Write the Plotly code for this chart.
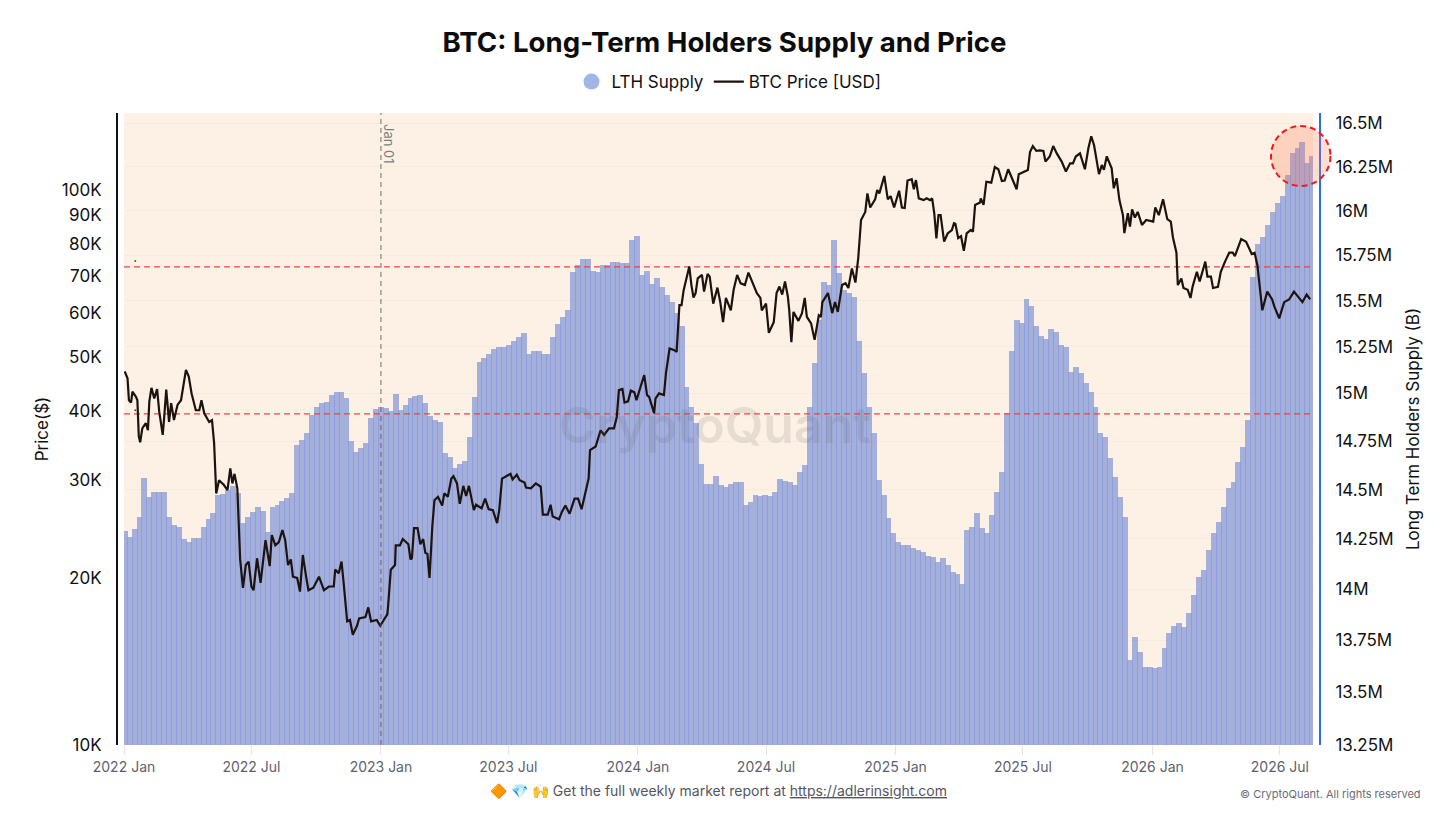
import numpy as np
import pandas as pd
import plotly.graph_objects as go

# weekly LTH supply in millions
supply_m = [
  14.29, 14.26, 14.30, 14.36, 14.56, 14.46, 14.49, 14.49, 14.49, 14.36, 14.32, 14.31, 14.25, 14.235, 14.255, 14.255,
  14.31, 14.35, 14.38, 14.47, 14.475, 14.50, 14.52, 14.485, 14.33, 14.36, 14.385, 14.41, 14.39, 14.285, 14.41, 14.42,
  14.44, 14.455, 14.485, 14.73, 14.755, 14.79, 14.885, 14.93, 14.95, 14.955, 14.99, 15.01, 15.01, 14.975, 14.75, 14.695,
  14.715, 14.74, 14.87, 14.92, 14.93, 14.925, 14.91, 15.0, 14.915, 14.94, 14.975, 14.985, 14.99, 14.95, 14.88, 14.86,
  14.85, 14.69, 14.67, 14.61, 14.63, 14.645, 14.77, 14.98, 15.17, 15.19, 15.21, 15.24, 15.25, 15.25, 15.26, 15.28,
  15.30, 15.325, 15.21, 15.225, 15.225, 15.21, 15.21, 15.30, 15.37, 15.41, 15.45, 15.66, 15.695, 15.73, 15.73, 15.665,
  15.66, 15.695, 15.695, 15.71, 15.71, 15.705, 15.705, 15.835, 15.86, 15.64, 15.665, 15.59, 15.625, 15.575, 15.53, 15.49,
  15.43, 15.36, 15.035, 14.93, 14.845, 14.63, 14.53, 14.53, 14.57, 14.525, 14.515, 14.53, 14.54, 14.54, 14.42, 14.435,
  14.47, 14.465, 14.47, 14.465, 14.49, 14.555, 14.545, 14.54, 14.525, 14.59, 14.625, 14.93, 15.165, 15.395, 15.6, 15.585,
  15.835, 15.65, 15.56, 15.54, 15.52, 15.28, 15.11, 14.93, 14.795, 14.55, 14.47, 14.355, 14.28, 14.235, 14.22, 14.22,
  14.205, 14.195, 14.185, 14.165, 14.16, 14.135, 14.155, 14.12, 14.085, 14.075, 14.025, 14.295, 14.31, 14.38, 14.305, 14.28,
  14.37, 14.49, 14.59, 14.895, 15.225, 15.395, 15.38, 15.51, 15.47, 15.36, 15.305, 15.29, 15.345, 15.33, 15.26, 15.25,
  15.115, 15.14, 15.11, 15.055, 15.01, 14.93, 14.795, 14.77, 14.665, 14.565, 14.46, 14.36, 13.655, 13.765, 13.69, 13.62,
  13.62, 13.615, 13.62, 13.71, 13.785, 13.82, 13.835, 13.815, 13.88, 13.97, 14.06, 14.095, 14.195, 14.28, 14.335, 14.41,
  14.51, 14.54, 14.64, 14.72, 14.86, 15.63, 15.815, 15.85, 15.92, 15.99, 16.045, 16.085, 16.2, 16.33, 16.355, 16.39,
  16.27, 16.31,
]

# BTC price, days since 2022-01-01 and price in thousands
price_day = [
  1, 5, 7, 10, 12, 17, 19, 21, 23, 26, 31, 34, 36, 39, 43, 47, 50, 55, 57, 60,
  64, 67, 71, 76, 81, 84, 88, 92, 96, 102, 107, 110, 114, 121, 125, 128, 131, 135, 142, 147,
  151, 154, 157, 161, 165, 169, 173, 177, 181, 184, 189, 194, 201, 207, 210, 215, 220, 225, 229, 233,
  237, 240, 246, 250, 254, 259, 262, 269, 277, 284, 291, 298, 300, 305, 309, 312, 317, 321, 325, 331,
  334, 343, 347, 351, 359, 364,
  368, 374, 375, 379, 385, 386, 392, 396, 404, 407, 409, 412, 417, 421, 425, 428, 431, 434, 438, 441,
  446, 452, 455, 460, 465, 468, 473, 477, 482, 486, 490, 497, 500, 508, 513, 518, 524, 530, 533, 537,
  543, 549, 552, 558, 562, 569, 571, 578, 585, 592, 595, 602, 606, 609, 618, 622, 627, 633, 640, 645,
  650, 655, 660, 662, 670, 677, 682, 689, 696, 700, 703, 708, 711, 716, 720, 725, 728, 734, 739, 743,
  746, 753, 755, 760, 767, 770, 775, 781, 785, 789, 792, 795, 803, 806, 809, 812, 815, 821, 824, 829,
  832, 837, 843, 847, 851, 855, 862, 866, 871, 876, 882, 887, 892, 899, 904, 906, 912, 916, 923, 927,
  931, 935, 939, 943, 945, 948, 951, 958, 963, 967, 970, 976, 981, 987, 990, 992, 1000, 1006, 1010, 1014,
  1020, 1025, 1029, 1034, 1039, 1043, 1047, 1053, 1056, 1060, 1067, 1070, 1073, 1080, 1085, 1089, 1094, 1101, 1105, 1109,
  1113, 1119, 1122, 1125, 1129, 1136, 1140, 1145, 1148, 1151, 1154, 1157, 1160, 1165, 1170, 1176, 1179, 1181, 1185, 1189,
  1193, 1197, 1203, 1206, 1209, 1216, 1217, 1221, 1225, 1232, 1237, 1242, 1247, 1251, 1256, 1261, 1268, 1271, 1279, 1284,
  1287, 1291, 1296, 1301, 1306, 1309, 1315, 1320, 1325, 1332, 1338, 1344, 1348, 1352, 1358, 1360, 1365, 1370, 1374, 1378,
  1381, 1385, 1389, 1392, 1396, 1403, 1406, 1410, 1414, 1419, 1421, 1426, 1429, 1432, 1436, 1440, 1446, 1452, 1462, 1465,
  1470, 1476, 1482, 1487, 1490, 1495, 1497, 1502, 1505, 1511, 1515, 1518, 1524, 1528, 1536, 1539, 1544, 1547, 1554, 1558,
  1564, 1570, 1575, 1578, 1587, 1594, 1602, 1606, 1610, 1613, 1617, 1624, 1631, 1634, 1641, 1648, 1655, 1662, 1669, 1674,
  1680, 1685,
]
price_k = [
  47.1, 45.8, 41.8, 41.4, 43.3, 42.4, 41.8, 36.0, 35.1, 37.2, 38.0, 36.9, 41.6, 44.0, 42.1, 43.8, 39.9, 36.2, 38.8, 43.7,
  38.2, 41.3, 38.5, 41.0, 41.8, 44.3, 47.4, 46.1, 43.0, 40.1, 40.1, 41.8, 39.6, 38.2, 38.5, 35.0, 28.4, 30.0, 29.4, 28.8,
  31.5, 29.6, 30.8, 29.0, 21.6, 19.2, 21.1, 21.4, 19.3, 19.0, 21.7, 19.6, 23.4, 21.0, 23.9, 22.9, 23.2, 24.4, 23.4, 21.1,
  21.6, 20.1, 20.0, 18.9, 22.0, 20.0, 19.0, 19.2, 20.1, 19.0, 19.3, 19.3, 20.7, 20.4, 21.4, 19.6, 16.7, 16.8, 15.8, 16.4,
  16.9, 17.0, 17.7, 16.7, 16.8, 16.4,
  16.7, 17.2, 17.7, 20.7, 21.1, 22.9, 22.9, 23.5, 23.0, 21.6, 21.7, 24.6, 24.6, 23.0, 23.5, 22.2, 22.1, 20.0, 24.8, 27.6,
  28.0, 27.0, 28.4, 28.0, 30.2, 30.5, 29.6, 27.2, 29.3, 28.1, 29.3, 26.5, 27.1, 26.7, 27.8, 26.6, 26.5, 25.1, 26.5, 30.2,
  30.5, 30.8, 30.1, 30.7, 30.0, 29.7, 29.1, 29.0, 29.6, 29.2, 26.0, 26.0, 27.1, 25.8, 25.5, 26.3, 27.0, 26.1, 27.8, 27.8,
  26.6, 28.4, 30.2, 34.0, 34.5, 36.9, 36.2, 37.2, 37.2, 39.0, 43.6, 43.8, 41.4, 41.6, 43.5, 43.2, 41.8, 44.3, 46.4, 42.7,
  42.4, 39.6, 42.1, 43.0, 42.7, 46.9, 51.8, 51.5, 51.1, 62.0, 62.0, 66.0, 72.8, 67.4, 64.0, 65.2, 69.3, 70.3, 65.6, 70.6,
  69.8, 62.4, 66.7, 62.8, 57.8, 63.9, 60.7, 66.1, 70.3, 67.9, 67.4, 71.0, 68.4, 65.2, 63.9, 60.7, 62.4, 55.3, 57.8, 65.2,
  67.0, 64.8, 68.4, 64.3, 60.7, 53.2, 60.3, 58.1, 59.9, 63.9, 59.1, 57.5, 53.7, 59.5, 59.1, 62.8, 65.2, 60.0, 62.8, 60.3,
  67.4, 67.9, 66.6, 72.2, 68.1, 75.4, 88.3, 91.3, 98.6, 93.0, 96.2, 100.0, 98.6, 106.0, 96.2, 97.5, 93.0, 99.7, 93.0, 92.8,
  104.0, 104.6, 100.3, 104.2, 96.6, 95.9, 96.6, 95.9, 96.6, 90.8, 81.8, 90.1, 90.1, 80.7, 83.5, 84.7, 87.1, 86.9, 81.9, 82.6,
  77.7, 83.5, 84.7, 84.1, 94.0, 94.9, 96.6, 94.0, 103.5, 103.1, 110.0, 109.0, 103.8, 104.0, 109.0, 105.0, 100.3, 106.8, 107.8, 108.7,
  117.0, 120.0, 117.6, 117.9, 117.6, 112.5, 114.9, 120.0, 116.4, 112.5, 108.0, 111.7, 111.7, 114.9, 116.4, 114.0, 109.0, 119.0, 125.0, 120.4,
  114.0, 106.8, 110.9, 108.7, 115.0, 109.4, 100.7, 105.0, 95.9, 90.1, 83.6, 90.8, 85.9, 92.3, 89.2, 91.3, 86.5, 88.3, 87.7, 93.0,
  90.1, 96.2, 88.6, 87.7, 82.2, 77.1, 67.4, 69.3, 66.6, 66.1, 63.9, 67.0, 71.2, 68.4, 74.3, 69.8, 69.8, 66.6, 66.9, 71.2,
  74.3, 77.1, 77.1, 76.0, 81.6, 80.7, 76.7, 77.1, 73.2, 67.0, 60.7, 65.6, 63.5, 61.7, 58.7, 62.8, 63.5, 65.6, 63.9, 62.8,
  64.8, 63.5,
]

price_ticks_k = [10, 20, 30, 40, 50, 60, 70, 80, 90, 100]
price_tick_text = ["10K", "20K", "30K", "40K", "50K", "60K", "70K", "80K", "90K", "100K"]
supply_ticks_m = [13.25, 13.5, 13.75, 14, 14.25, 14.5, 14.75, 15, 15.25, 15.5, 15.75, 16, 16.25, 16.5]
supply_tick_text = ["13.25M", "13.5M", "13.75M", "14M", "14.25M", "14.5M", "14.75M", "15M", "15.25M", "15.5M", "15.75M", "16M", "16.25M", "16.5M"]
ref_levels_k = [72.7, 39.5]
# two tiny stray dots near the start of the ref lines
dot_day = [16, 16]
dot_k = [74.5, 40.1]

FONT = "Inter"
PLOT_L, PLOT_R, PLOT_T, PLOT_B = 117, 1320, 113, 745


def px(x):
  return (x - PLOT_L) / (PLOT_R - PLOT_L)


def py(y):
  return (PLOT_B - y) / (PLOT_B - PLOT_T)


supply_dates = pd.date_range("2022-01-02", periods=len(supply_m), freq="7D")
price_dates = pd.Timestamp("2022-01-01") + pd.to_timedelta(price_day, unit="D")
dot_dates = pd.Timestamp("2022-01-01") + pd.to_timedelta(dot_day, unit="D")
x_start, x_end = "2022-01-01", "2026-08-17"

fig = go.Figure()

fig.add_trace(go.Bar(
  x=supply_dates,
  y=np.array(supply_m) * 1e6,
  width=8.4 * 86400000,
  marker=dict(color="rgba(133,152,216,0.75)", line=dict(width=0)),
  yaxis="y",
  showlegend=False,
  name="LTH Supply",
))
# legend entry with the round swatch
fig.add_trace(go.Scatter(
  x=[None], y=[None], mode="markers", name="LTH Supply",
  marker=dict(color="#A3B4E8", size=16), yaxis="y",
))
for level in ref_levels_k:
  fig.add_trace(go.Scatter(
    x=[x_start, x_end], y=[level * 1000, level * 1000], mode="lines",
    line=dict(color="rgba(240,60,60,0.95)", width=1.2, dash="6px,4px"),
    yaxis="y2", showlegend=False, hoverinfo="skip",
  ))
fig.add_trace(go.Scatter(
  x=dot_dates, y=np.array(dot_k) * 1000, mode="markers",
  marker=dict(color="#555555", size=2), yaxis="y2", showlegend=False, hoverinfo="skip",
))
fig.add_trace(go.Scatter(
  x=price_dates,
  y=np.array(price_k) * 1000,
  mode="lines",
  name="BTC Price [USD]",
  line=dict(color="#1c130e", width=2.2),
  yaxis="y2",
))

fig.add_shape(type="line", x0="2023-01-01", x1="2023-01-01", xref="x", y0=0, y1=1, yref="paper",
              line=dict(color="rgba(110,80,80,0.85)", width=1, dash="5px,4px"))
fig.add_shape(type="circle", xref="paper", yref="paper",
              x0=px(1271), x1=px(1330.5), y0=py(186), y1=py(126),
              fillcolor="rgba(250,120,80,0.25)", line=dict(color="#F01818", width=2, dash="6px,4px"))

fig.add_annotation(text="Jan 01", x=px(389), y=py(144), xref="paper", yref="paper", showarrow=False,
                   xanchor="center", yanchor="middle", textangle=90,
                   font=dict(family=FONT, size=13, color="#7d7d7d"))
fig.add_annotation(text="CryptoQuant", x=px(715), y=py(425), xref="paper", yref="paper", showarrow=False,
                   xanchor="center", yanchor="middle",
                   font=dict(family=FONT, size=50, weight=600, color="rgba(100,90,90,0.14)"))
fig.add_annotation(text="🔶 💎 🙌 Get the full weekly market report at <u>https://adlerinsight.com</u>",
                   x=px(718.5), y=py(791), xref="paper", yref="paper", showarrow=False,
                   xanchor="center", yanchor="middle", font=dict(family=FONT, size=14, color="#55555f"))
fig.add_annotation(text="© CryptoQuant. All rights reserved", x=px(1423), y=py(794), xref="paper", yref="paper",
                   xanchor="right", yanchor="middle", showarrow=False,
                   font=dict(family=FONT, size=11, color="#6b6b75"))

fig.update_layout(
  width=1456,
  height=819,
  margin=dict(l=PLOT_L, r=1456 - PLOT_R, t=PLOT_T, b=819 - PLOT_B),
  paper_bgcolor="white",
  plot_bgcolor="#FDF1E5",
  font=dict(family=FONT, color="#111111"),
  title=dict(text="<b>BTC: Long-Term Holders Supply and Price</b>", x=724.5 / 1456, xanchor="center",
             y=1 - 42 / 819, yanchor="middle", font=dict(family=FONT, size=27.6, color="#0c0c0c")),
  legend=dict(orientation="h", x=729 / 1456, xref="container", xanchor="center", y=1 - 82 / 819, yref="container",
              yanchor="middle", font=dict(family=FONT, size=17, color="#111111")),
  bargap=0,
  barmode="overlay",
  xaxis=dict(
    type="date",
    range=[x_start, x_end],
    domain=[px(124), px(1313)],
    tick0="2022-01-01",
    dtick="M6",
    tickformat="%Y %b",
    ticks="outside",
    ticklen=9,
    tickcolor="#e4e4e4",
    showgrid=False,
    showline=False,
    zeroline=False,
    tickfont=dict(family=FONT, size=14, color="#5f5f6b"),
  ),
  yaxis=dict(
    type="log",
    range=[np.log10(13.25e6), np.log10(13.25e6) + 632 / 6524],
    anchor="free",
    position=1,
    side="right",
    tickvals=[v * 1e6 for v in supply_ticks_m],
    ticktext=supply_tick_text,
    ticks="outside",
    ticklen=11,
    tickcolor="rgba(0,0,0,0)",
    showline=True,
    linecolor="#2B6BF0",
    linewidth=2,
    showgrid=True,
    gridcolor="#F7EBDF",
    zeroline=False,
    tickfont=dict(family=FONT, size=17, color="#111111"),
    title=dict(text="Long Term Holders Supply (B)", font=dict(family=FONT, size=17, color="#111111"), standoff=13),
  ),
  yaxis2=dict(
    type="log",
    range=[4, 4 + 632 / 555],
    overlaying="y",
    anchor="free",
    position=0,
    side="left",
    tickvals=[v * 1000 for v in price_ticks_k],
    ticktext=price_tick_text,
    ticks="outside",
    ticklen=11,
    tickcolor="rgba(0,0,0,0)",
    showline=True,
    linecolor="#111111",
    linewidth=2,
    showgrid=False,
    zeroline=False,
    tickfont=dict(family=FONT, size=17, color="#111111"),
    title=dict(text="Price($)", font=dict(family=FONT, size=17, color="#111111"), standoff=8),
  ),
)

fig.write_html("out.html", config=dict(displayModeBar=False), post_script="document.body.style.margin='0';")
